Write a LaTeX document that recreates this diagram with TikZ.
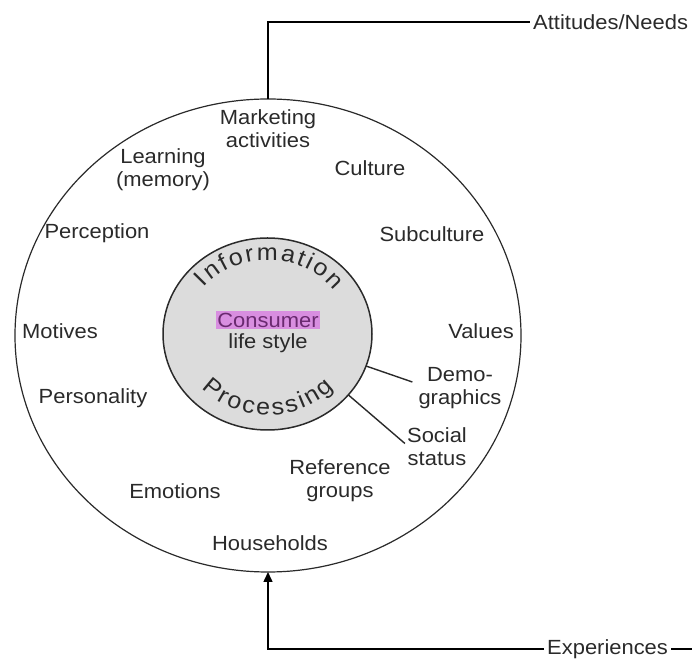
\documentclass[tikz,border=0pt]{standalone}
\usepackage{fontspec}
\setmainfont{Liberation Sans}[FakeStretch=1.07]
\usetikzlibrary{shapes.geometric,arrows.meta,decorations.text}
\definecolor{txt}{HTML}{2A2A2A}
\definecolor{innergray}{HTML}{DCDCDC}
\definecolor{hl}{HTML}{D88EE0}
\definecolor{hltxt}{HTML}{6A2A70}
\newcommand\lbfont{\fontsize{20.5}{23}\selectfont}
\newcommand\curvefont{\fontsize{23.5}{26}\selectfont}
\begin{document}
\begin{tikzpicture}[x=1pt,y=1pt,
  lbl/.style={font=\lbfont, text=txt, align=center, inner sep=0pt},
  ring/.style={draw=txt, ellipse, inner sep=0pt, outer sep=0pt},
  conn/.style={draw=black, line width=1.5pt},
  spoke/.style={draw=txt, line width=1.4pt}]
\useasboundingbox (0,0) rectangle (696,661);
% rings
\node[ring, line width=1.2pt, minimum width=506pt, minimum height=473pt] (outer) at (268,325.5) {};
\node[ring, fill=innergray, line width=1.5pt, minimum width=209pt, minimum height=192pt] (inner) at (267.5,327) {};
% curved texts
\path[decorate, decoration={text along path, text align=fit to path,
  text={|\curvefont\color{txt}|Information}}]
  ([shift={(141:82 and 74)}]inner.center) arc[start angle=141, end angle=36, x radius=82, y radius=74];
\path[decorate, decoration={text along path, text align=fit to path,
  text={|\curvefont\color{txt}|Processing}}]
  ([shift={(222:89 and 81)}]inner.center) arc[start angle=222, end angle=318, x radius=89, y radius=81];
% centre
\node[lbl, fill=hl, text=hltxt, inner xsep=1.5pt, inner ysep=1.5pt] (consumer) at (268,341) {Consumer};
\node[lbl] (lifestyle) at (268,318) {life style};
% labels
\node[lbl] (marketing) at (268,532) {Marketing\\activities};
\node[lbl] (learning) at (163,491) {Learning\\(memory)};
\node[lbl] (culture) at (370,493) {Culture};
\node[lbl] (perception) at (97,428) {Perception};
\node[lbl] (subculture) at (432,427) {Subculture};
\node[lbl] (motives) at (60,330) {Motives};
\node[lbl] (values) at (481,330) {Values};
\node[lbl] (demo) at (460,273) {Demo-\\graphics};
\node[lbl] (personality) at (93,263) {Personality};
\node[lbl] (social) at (437,214.5) {Social\\status};
\node[lbl] (reference) at (340,180.5) {Reference\\groups};
\node[lbl] (emotions) at (175,170) {Emotions};
\node[lbl] (households) at (270,118) {Households};
\node[lbl, anchor=west, inner xsep=3pt] (att) at (530,639) {Attitudes/Needs};
\node[lbl, anchor=west, inner xsep=3pt] (exp) at (544,12) {Experiences};
\coordinate (expend) at (692,12);
% spokes
\draw[spoke] (inner.-18) -- ([shift={(-6,6)}]demo.west);
\draw[spoke] (inner.-37) -- ([shift={(-2,3)}]social.west);
% connectors
\draw[conn] (outer.north) |- (att.west);
\draw[conn, -{Triangle[length=10pt,width=9pt]}] (exp.west) -| (outer.south);
\draw[conn] (exp.east) -- (expend);
\end{tikzpicture}
\end{document}
